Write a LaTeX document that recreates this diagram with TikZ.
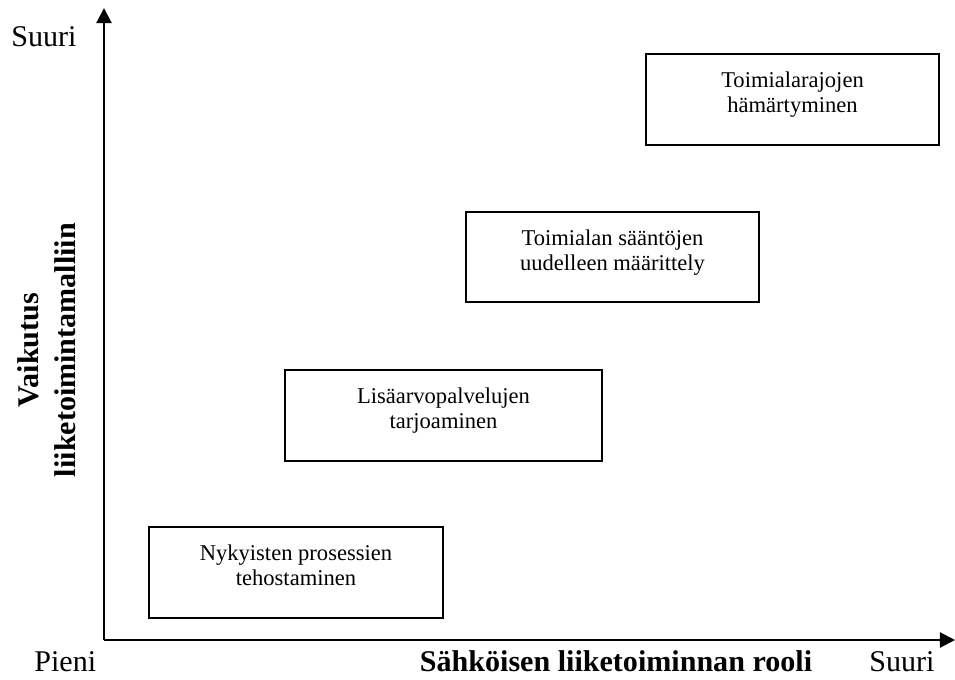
\documentclass[tikz,border=0pt]{standalone}
\usepackage{fontspec}
\setmainfont{Liberation Serif}
\usepackage{tikz}
\usepackage{xcolor}
\usetikzlibrary{arrows.meta}

\newlength\px
\setlength\px{0.532pt}

\tikzset{
	kentta/.style={draw, line width=0.8pt, inner sep=0pt},
	akseli/.style={line width=1.1pt, -{Triangle[length=8pt,width=8pt]}},
	otsikko/.style={font=\fontsize{16}{19.5}\selectfont, inner sep=0pt}
}

\newcommand{\laatikko}[3]{%
	\begin{minipage}[c][#2\px][t]{#1\px}
		\centering\fontsize{12}{13}\selectfont
		\rule{0pt}{18pt}#3
	\end{minipage}%
}

\begin{document}
\begin{tikzpicture}[x=0.532pt, y=-0.532pt]
			\useasboundingbox (0,0) rectangle (955,679);

			\coordinate (origo) at (104,640);
			\coordinate (ylos) at (104,8);
			\coordinate (oikea) at (955,640);
			\draw[akseli] (origo) -- (ylos);
			\draw[akseli] (origo) -- (oikea);

			\node[kentta] (rajat) at (792.5,99.5)
			{
				\laatikko{293}{91}{Toimialarajojen\\ hämärtyminen}
			};
			\node[kentta] (saannot) at (612.5,257)
			{
				\laatikko{293}{90}{Toimialan sääntöjen\\ uudelleen määrittely}
			};
			\node[kentta] (lisaarvo) at (443.5,415.5)
			{
				\laatikko{317}{91}{Lisäarvopalvelujen\\ tarjoaminen}
			};
			\node[kentta] (prosessit) at (296,572.5)
			{
				\laatikko{294}{91}{Nykyisten prosessien\\ tehostaminen}
			};

			\node[otsikko, anchor=base west] (suuriy) at (11,46) {Suuri};
			\node[otsikko, anchor=base west] (pieni) at (34,671) {Pieni};
			\node[otsikko, anchor=base west] (suurix) at (869,671) {Suuri};
			\node[otsikko, anchor=base, font=\fontsize{16}{19.5}\selectfont\bfseries] (rooli) at (616,671)
			{Sähköisen liiketoiminnan rooli};
			\node[otsikko, font=\fontsize{16}{19.5}\selectfont\bfseries, align=center, rotate=90] (vaikutus) at (47,350)
			{Vaikutus\\ liiketoimintamalliin};
		\end{tikzpicture}
\end{document}
